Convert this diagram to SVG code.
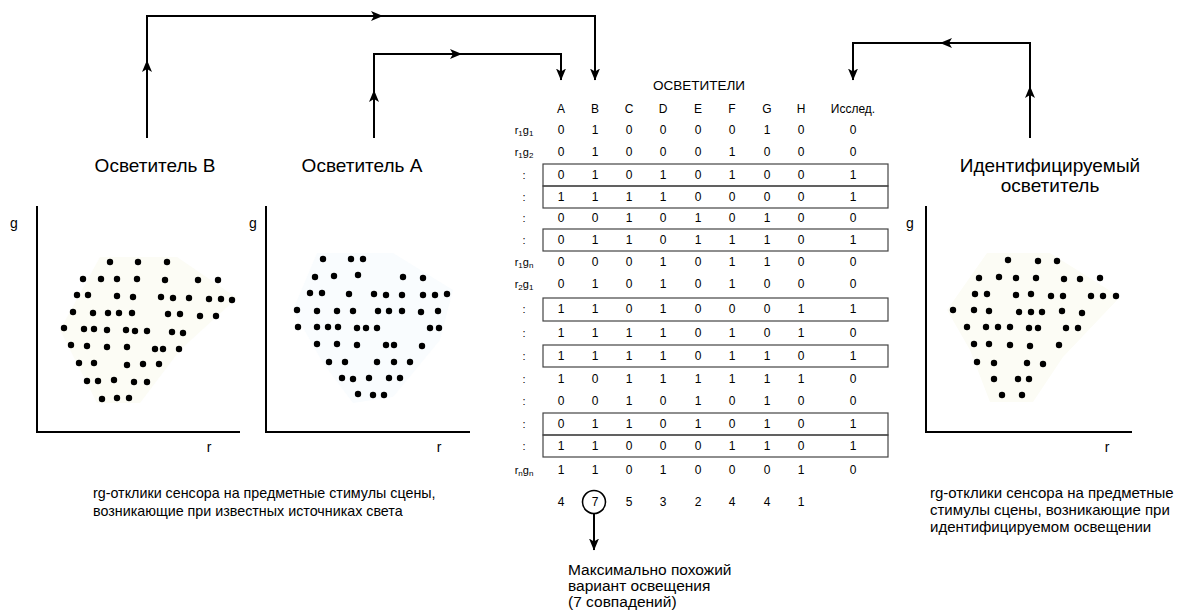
<svg xmlns="http://www.w3.org/2000/svg" xmlns:xlink="http://www.w3.org/1999/xlink" width="1181" height="614" viewBox="0 0 1181 614">
<style>
text{font-family:"Liberation Sans",Arial,sans-serif;fill:#000}
.d{font-size:12px;text-anchor:middle}
.lbl{font-size:11px;text-anchor:middle}
.sub{font-size:8px}
.hd{font-size:19px;text-anchor:middle}
.ax{fill:none;stroke:#000;stroke-width:2}
.axl{font-size:14px;text-anchor:middle}
.box{fill:none;stroke:#444;stroke-width:1.2}
.con{fill:none;stroke:#000;stroke-width:2}
.dot{fill:#000}
</style>
<defs>
<marker id="arr" viewBox="0 0 12 10" refX="11.5" refY="5" markerWidth="12" markerHeight="10" orient="auto" markerUnits="userSpaceOnUse"><path d="M0,0 L12,5 L0,10 L3,5 z" fill="#000"/></marker>
<path id="ah" d="M0,0 L-12,-5 L-9,0 L-12,5 Z" fill="#000"/>
</defs>
<rect width="1181" height="614" fill="#fff"/>

<g id="connectors">
<path class="con" d="M147,138 V16 H595 V80" marker-end="url(#arr)"/>
<path class="con" d="M374,138 V54 H561 V80" marker-end="url(#arr)"/>
<path class="con" d="M1030,138 V43 H853 V80" marker-end="url(#arr)"/>
<use xlink:href="#ah" transform="translate(147,60) rotate(-90)"/>
<use xlink:href="#ah" transform="translate(383,16)"/>
<use xlink:href="#ah" transform="translate(374,90) rotate(-90)"/>
<use xlink:href="#ah" transform="translate(462,54)"/>
<use xlink:href="#ah" transform="translate(1030,86) rotate(-90)"/>
<use xlink:href="#ah" transform="translate(940,43) rotate(180)"/>
<path class="con" d="M594,514 V550" marker-end="url(#arr)"/>
</g>

<g id="illuminantB">
<text class="hd" x="155" y="172">Осветитель B</text>
<path d="M100,257 L177,257 L237,298 L180,350 L140,403 L97,403 L60,330 Z" fill="#fcfcf5"/>
<path class="ax" d="M37,206 V432 H240"/>
<text class="axl" x="14" y="228">g</text>
<text class="axl" x="209" y="452">r</text>
<g class="dot">
<circle cx="110" cy="262" r="3.2"/><circle cx="138" cy="262" r="3.2"/><circle cx="167" cy="262" r="3.2"/>
<circle cx="83" cy="279" r="3.2"/><circle cx="101" cy="279" r="3.2"/><circle cx="117" cy="279" r="3.2"/><circle cx="137" cy="279" r="3.2"/><circle cx="165" cy="280" r="3.2"/><circle cx="198" cy="280" r="3.2"/><circle cx="218" cy="280" r="3.2"/>
<circle cx="77" cy="295" r="3.2"/><circle cx="88" cy="295" r="3.2"/><circle cx="117" cy="296" r="3.2"/><circle cx="133" cy="297" r="3.2"/><circle cx="161" cy="297" r="3.2"/><circle cx="173" cy="298" r="3.2"/><circle cx="189" cy="298" r="3.2"/><circle cx="209" cy="299" r="3.2"/><circle cx="221" cy="299" r="3.2"/><circle cx="232" cy="300" r="3.2"/>
<circle cx="73" cy="312" r="3.2"/><circle cx="93" cy="313" r="3.2"/><circle cx="108" cy="313" r="3.2"/><circle cx="119" cy="313" r="3.2"/><circle cx="132" cy="313" r="3.2"/><circle cx="168" cy="314" r="3.2"/><circle cx="180" cy="314" r="3.2"/><circle cx="200" cy="316" r="3.2"/><circle cx="216" cy="316" r="3.2"/>
<circle cx="64" cy="328" r="3.2"/><circle cx="84" cy="329" r="3.2"/><circle cx="94" cy="329" r="3.2"/><circle cx="107" cy="330" r="3.2"/><circle cx="126" cy="330" r="3.2"/><circle cx="135" cy="331" r="3.2"/><circle cx="147" cy="331" r="3.2"/><circle cx="172" cy="332" r="3.2"/><circle cx="183" cy="333" r="3.2"/>
<circle cx="71" cy="345" r="3.2"/><circle cx="87" cy="346" r="3.2"/><circle cx="107" cy="347" r="3.2"/><circle cx="127" cy="347" r="3.2"/><circle cx="155" cy="349" r="3.2"/><circle cx="163" cy="349" r="3.2"/><circle cx="179" cy="349" r="3.2"/>
<circle cx="79" cy="363" r="3.2"/><circle cx="94" cy="363" r="3.2"/><circle cx="127" cy="365" r="3.2"/><circle cx="143" cy="364" r="3.2"/><circle cx="159" cy="364" r="3.2"/>
<circle cx="87" cy="381" r="3.2"/><circle cx="98" cy="381" r="3.2"/><circle cx="114" cy="380" r="3.2"/><circle cx="134" cy="382" r="3.2"/><circle cx="147" cy="382" r="3.2"/>
<circle cx="102" cy="399" r="3.2"/><circle cx="117" cy="398" r="3.2"/><circle cx="129" cy="398" r="3.2"/>
</g>
</g>

<g id="illuminantA">
<text class="hd" x="362" y="172">Осветитель A</text>
<path d="M317,253 L393,253 L453,290 L440,340 L393,397 L353,403 L323,363 L293,310 Z" fill="#f9fcfe"/>
<path class="ax" d="M266,206 V432 H470"/>
<text class="axl" x="253" y="228">g</text>
<text class="axl" x="439" y="452">r</text>
<g class="dot">
<circle cx="323" cy="259" r="3.2"/><circle cx="351" cy="259" r="3.2"/><circle cx="363" cy="259" r="3.2"/>
<circle cx="315" cy="277" r="3.2"/><circle cx="334" cy="276" r="3.2"/><circle cx="358" cy="275" r="3.2"/><circle cx="403" cy="277" r="3.2"/><circle cx="423" cy="278" r="3.2"/>
<circle cx="310" cy="293" r="3.2"/><circle cx="322" cy="293" r="3.2"/><circle cx="349" cy="294" r="3.2"/><circle cx="374" cy="294" r="3.2"/><circle cx="386" cy="295" r="3.2"/><circle cx="402" cy="295" r="3.2"/><circle cx="423" cy="295" r="3.2"/><circle cx="435" cy="295" r="3.2"/><circle cx="447" cy="294" r="3.2"/>
<circle cx="297" cy="310" r="3.2"/><circle cx="317" cy="311" r="3.2"/><circle cx="337" cy="311" r="3.2"/><circle cx="353" cy="311" r="3.2"/><circle cx="378" cy="311" r="3.2"/><circle cx="389" cy="311" r="3.2"/><circle cx="402" cy="311" r="3.2"/><circle cx="421" cy="312" r="3.2"/><circle cx="438" cy="311" r="3.2"/>
<circle cx="298" cy="327" r="3.2"/><circle cx="317" cy="327" r="3.2"/><circle cx="328" cy="327" r="3.2"/><circle cx="338" cy="327" r="3.2"/><circle cx="357" cy="328" r="3.2"/><circle cx="366" cy="328" r="3.2"/><circle cx="377" cy="328" r="3.2"/><circle cx="430" cy="328" r="3.2"/><circle cx="439" cy="328" r="3.2"/>
<circle cx="317" cy="344" r="3.2"/><circle cx="337" cy="344" r="3.2"/><circle cx="357" cy="345" r="3.2"/><circle cx="386" cy="345" r="3.2"/><circle cx="394" cy="345" r="3.2"/><circle cx="422" cy="346" r="3.2"/>
<circle cx="329" cy="362" r="3.2"/><circle cx="345" cy="362" r="3.2"/><circle cx="377" cy="362" r="3.2"/><circle cx="394" cy="362" r="3.2"/><circle cx="410" cy="362" r="3.2"/>
<circle cx="342" cy="378" r="3.2"/><circle cx="353" cy="379" r="3.2"/><circle cx="369" cy="378" r="3.2"/><circle cx="389" cy="378" r="3.2"/><circle cx="400" cy="378" r="3.2"/>
<circle cx="358" cy="394" r="3.2"/><circle cx="373" cy="395" r="3.2"/><circle cx="384" cy="395" r="3.2"/>
</g>
</g>

<g id="identified">
<text class="hd" x="1050" y="172">Идентифицируемый</text>
<text class="hd" x="1050" y="192">осветитель</text>
<path d="M987,253 L1050,253 L1120,297 L1063,357 L1033,402 L990,402 L970,350 L947,310 Z" fill="#fcfcf5"/>
<path class="ax" d="M926,206 V432 H1132"/>
<text class="axl" x="910" y="228">g</text>
<text class="axl" x="1107" y="452">r</text>
<g class="dot">
<circle cx="1008" cy="260" r="3.2"/><circle cx="1038" cy="261" r="3.2"/><circle cx="1057" cy="261" r="3.2"/>
<circle cx="979" cy="278" r="3.2"/><circle cx="999" cy="277" r="3.2"/><circle cx="1016" cy="278" r="3.2"/><circle cx="1036" cy="278" r="3.2"/><circle cx="1064" cy="279" r="3.2"/><circle cx="1080" cy="279" r="3.2"/><circle cx="1100" cy="278" r="3.2"/>
<circle cx="975" cy="294" r="3.2"/><circle cx="987" cy="294" r="3.2"/><circle cx="1016" cy="295" r="3.2"/><circle cx="1031" cy="294" r="3.2"/><circle cx="1051" cy="296" r="3.2"/><circle cx="1063" cy="296" r="3.2"/><circle cx="1091" cy="296" r="3.2"/><circle cx="1103" cy="296" r="3.2"/><circle cx="1116" cy="296" r="3.2"/>
<circle cx="953" cy="310" r="3.2"/><circle cx="974" cy="310" r="3.2"/><circle cx="989" cy="311" r="3.2"/><circle cx="1019" cy="312" r="3.2"/><circle cx="1031" cy="312" r="3.2"/><circle cx="1042" cy="312" r="3.2"/><circle cx="1062" cy="311" r="3.2"/><circle cx="1082" cy="313" r="3.2"/>
<circle cx="967" cy="327" r="3.2"/><circle cx="986" cy="327" r="3.2"/><circle cx="998" cy="327" r="3.2"/><circle cx="1010" cy="327" r="3.2"/><circle cx="1029" cy="328" r="3.2"/><circle cx="1038" cy="328" r="3.2"/><circle cx="1066" cy="328" r="3.2"/><circle cx="1078" cy="328" r="3.2"/>
<circle cx="974" cy="344" r="3.2"/><circle cx="989" cy="344" r="3.2"/><circle cx="1010" cy="345" r="3.2"/><circle cx="1030" cy="346" r="3.2"/><circle cx="1059" cy="345" r="3.2"/>
<circle cx="977" cy="362" r="3.2"/><circle cx="994" cy="363" r="3.2"/><circle cx="1027" cy="363" r="3.2"/><circle cx="1043" cy="364" r="3.2"/>
<circle cx="994" cy="379" r="3.2"/><circle cx="1018" cy="379" r="3.2"/><circle cx="1029" cy="379" r="3.2"/>
<circle cx="1002" cy="395" r="3.2"/><circle cx="1022" cy="395" r="3.2"/>
</g>
</g>

<g id="table">
<text class="d" x="699" y="90" style="font-size:13.5px">ОСВЕТИТЕЛИ</text>
<text class="d" x="561 595 629 663 698 732 767 801" y="113">ABCDEFGH</text>
<text class="d" x="853" y="113">Исслед.</text>
<rect class="box" x="543" y="164" width="345" height="22"/>
<rect class="box" x="543" y="186" width="345" height="22"/>
<rect class="box" x="543" y="229" width="345" height="22"/>
<rect class="box" x="543" y="298" width="345" height="23"/>
<rect class="box" x="543" y="345" width="345" height="22"/>
<rect class="box" x="543" y="413" width="345" height="22"/>
<rect class="box" x="543" y="435" width="345" height="22"/>
<text class="lbl" x="524" y="134">r<tspan class="sub" dy="2">1</tspan><tspan dy="-2">g</tspan><tspan class="sub" dy="2">1</tspan></text>
<text class="lbl" x="524" y="156">r<tspan class="sub" dy="2">1</tspan><tspan dy="-2">g</tspan><tspan class="sub" dy="2">2</tspan></text>
<text class="lbl" x="524" y="179">:</text>
<text class="lbl" x="524" y="201">:</text>
<text class="lbl" x="524" y="222">:</text>
<text class="lbl" x="524" y="244">:</text>
<text class="lbl" x="524" y="266">r<tspan class="sub" dy="2">1</tspan><tspan dy="-2">g</tspan><tspan class="sub" dy="2">n</tspan></text>
<text class="lbl" x="524" y="288">r<tspan class="sub" dy="2">2</tspan><tspan dy="-2">g</tspan><tspan class="sub" dy="2">1</tspan></text>
<text class="lbl" x="524" y="313">:</text>
<text class="lbl" x="524" y="337">:</text>
<text class="lbl" x="524" y="360">:</text>
<text class="lbl" x="524" y="383">:</text>
<text class="lbl" x="524" y="405">:</text>
<text class="lbl" x="524" y="428">:</text>
<text class="lbl" x="524" y="450">:</text>
<text class="lbl" x="524" y="474">r<tspan class="sub" dy="2">n</tspan><tspan dy="-2">g</tspan><tspan class="sub" dy="2">n</tspan></text>
<text class="d" x="561 595 629 663 698 732 767 801 853" y="134">010000100</text>
<text class="d" x="561 595 629 663 698 732 767 801 853" y="156">010001000</text>
<text class="d" x="561 595 629 663 698 732 767 801 853" y="179">010101001</text>
<text class="d" x="561 595 629 663 698 732 767 801 853" y="201">111100001</text>
<text class="d" x="561 595 629 663 698 732 767 801 853" y="222">001010100</text>
<text class="d" x="561 595 629 663 698 732 767 801 853" y="244">011011101</text>
<text class="d" x="561 595 629 663 698 732 767 801 853" y="266">000101100</text>
<text class="d" x="561 595 629 663 698 732 767 801 853" y="288">010101000</text>
<text class="d" x="561 595 629 663 698 732 767 801 853" y="313">110100011</text>
<text class="d" x="561 595 629 663 698 732 767 801 853" y="337">111101010</text>
<text class="d" x="561 595 629 663 698 732 767 801 853" y="360">111101101</text>
<text class="d" x="561 595 629 663 698 732 767 801 853" y="383">101111110</text>
<text class="d" x="561 595 629 663 698 732 767 801 853" y="405">001010100</text>
<text class="d" x="561 595 629 663 698 732 767 801 853" y="428">011010101</text>
<text class="d" x="561 595 629 663 698 732 767 801 853" y="450">110001101</text>
<text class="d" x="561 595 629 663 698 732 767 801 853" y="474">110100010</text>
<text class="d" x="561 595 629 663 698 732 767 801" y="506">47532441</text>
<circle cx="594" cy="502" r="11.5" fill="none" stroke="#000" stroke-width="1.6"/>
</g>

<g id="captions">
<text x="93" y="498" style="font-size:14.3px">rg-отклики сенсора на предметные стимулы сцены,</text>
<text x="93" y="516" style="font-size:14.3px">возникающие при известных источниках света</text>
<text x="930" y="498" style="font-size:15px">rg-отклики сенсора на предметные</text>
<text x="930" y="515" style="font-size:15px">стимулы сцены, возникающие при</text>
<text x="930" y="532" style="font-size:15px">идентифицируемом освещении</text>
<text x="568" y="575" style="font-size:15.5px">Максимально похожий</text>
<text x="568" y="591" style="font-size:15.5px">вариант освещения</text>
<text x="568" y="607" style="font-size:15.5px">(7 совпадений)</text>
</g>
</svg>
